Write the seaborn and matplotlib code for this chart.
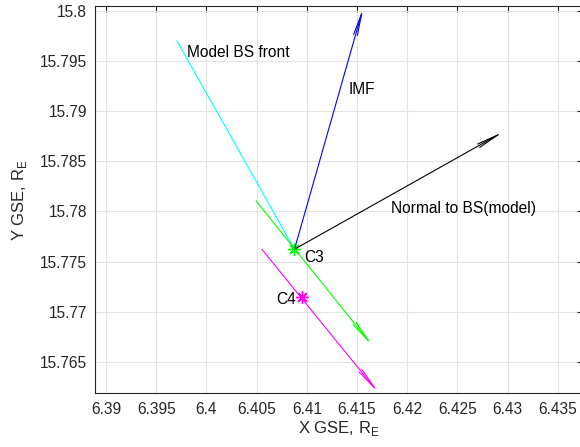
import numpy as np
import pandas as pd
import matplotlib
matplotlib.use("Agg")
import matplotlib.pyplot as plt
import seaborn as sns

# spacecraft positions (GSE, R_E)
c3 = (6.40877, 15.77622)
c4 = (6.40952, 15.77146)

# model bow shock front (line ending at C3)
bs_x = [6.39705, c3[0]]
bs_y = [15.79699, c3[1]]

# arrows: (start, end)
imf_arrow = ((6.40877, 15.77622), (6.41563, 15.80030))
normal_arrow = ((6.40877, 15.77622), (6.42960, 15.78793))
c3_arrow = ((6.40495, 15.78103), (6.41654, 15.76661))
c4_arrow = ((6.40552, 15.77622), (6.41714, 15.76192))

# labels
labels = ["Model BS front", "IMF", "Normal to BS(model)", "C3", "C4"]
label_x = [6.39810, 6.41415, 6.41838, 6.40977, 6.40894]
label_y = [15.79584, 15.79215, 15.78030, 15.77542, 15.77117]
label_ha = ["left", "left", "left", "left", "right"]

xticks = [6.39, 6.395, 6.4, 6.405, 6.41, 6.415, 6.42, 6.425, 6.43, 6.435]
yticks = [15.765, 15.77, 15.775, 15.78, 15.785, 15.79, 15.795, 15.8]

sns.set_theme(style="whitegrid")
plt.rcParams['font.family'] = ['Liberation Sans', 'DejaVu Sans']
plt.rcParams['mathtext.fontset'] = 'custom'
plt.rcParams['mathtext.rm'] = 'Liberation Sans'

fig = plt.figure(figsize=(5.8, 4.47), dpi=100)
ax = fig.add_axes([0.1643, 0.1201, 0.8407, 0.8658])
ax.set_facecolor('white')

sns.lineplot(x=bs_x, y=bs_y, color='cyan', lw=0.8, sort=False, ax=ax)


def draw_arrow(arr, color):
    (x0, y0), (x1, y1) = arr
    ax.annotate("", xy=(x1, y1), xytext=(x0, y0), xycoords='data',
                arrowprops=dict(arrowstyle="->, head_length=1.6, head_width=0.14",
                                color=color, lw=0.8, shrinkA=0, shrinkB=0,
                                mutation_scale=10),
                annotation_clip=False)


draw_arrow(imf_arrow, 'blue')
draw_arrow(normal_arrow, 'black')
draw_arrow(c3_arrow, 'lime')
draw_arrow(c4_arrow, 'magenta')

ax.plot([c3[0]], [c3[1]], marker=(8, 2, 0), color='lime', ms=9, mew=1, ls='none')
ax.plot([c4[0]], [c4[1]], marker=(8, 2, 0), color='magenta', ms=9, mew=1, ls='none')

for t, x, y, ha in zip(labels, label_x, label_y, label_ha):
    ax.text(x, y, t, ha=ha, va='center', fontsize=11.2, color='black')

ax.set_xlim(6.38893, 6.4375)
ax.set_ylim(15.76187, 15.80042)
ax.set_xticks(xticks)
ax.set_xticklabels([f"{v:g}" for v in xticks])
ax.set_yticks(yticks)
ax.set_yticklabels([f"{v:g}" for v in yticks])

ax.grid(True, color='#e3e3e3', lw=0.8)
ax.tick_params(direction='in', length=4, width=0.8, colors='#262626',
               labelsize=11.2, top=True, right=True, pad=6)
for s in ax.spines.values():
    s.set_color('#262626')
    s.set_linewidth(0.8)

ax.set_xlabel(r'X GSE, R$_\mathregular{E}$', fontsize=12, color='#262626', labelpad=2)
ax.set_ylabel(r'Y GSE, R$_\mathregular{E}$', fontsize=12, color='#262626', labelpad=8)

fig.savefig("out.png", dpi=100)
